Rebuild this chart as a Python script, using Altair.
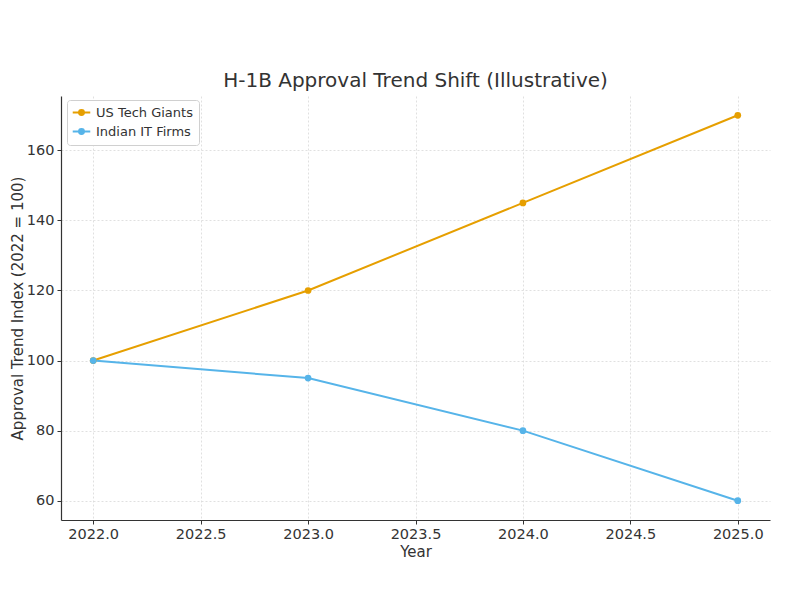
import altair as alt
import pandas as pd

years = [2022, 2023, 2024, 2025]
us_tech = [100, 120, 145, 170]
indian_it = [100, 95, 80, 60]
series_names = ["US Tech Giants", "Indian IT Firms"]
series_colors = ["#E69F00", "#56B4E9"]

rows = []
for y, v in zip(years, us_tech):
    rows.append({"Year": y, "Index": v, "Series": series_names[0]})
for y, v in zip(years, indian_it):
    rows.append({"Year": y, "Index": v, "Series": series_names[1]})
df = pd.DataFrame(rows)

font = "DejaVu Sans"
legend_symbol = "M-1.6,0 L1.6,0 M-0.45,0 A0.45,0.45 0 1,1 0.45,0 A0.45,0.45 0 1,1 -0.45,0 Z"

color = alt.Color(
    "Series:N",
    scale=alt.Scale(domain=series_names, range=series_colors),
    sort=series_names,
    legend=alt.Legend(
        title=None, orient="none", legendX=6, legendY=4,
        symbolType=legend_symbol, symbolSize=120, symbolStrokeWidth=2,
        labelFont=font, labelFontSize=13, labelColor="#333333",
        fillColor="white", strokeColor="#d0d0d0", cornerRadius=3,
        padding=6, rowPadding=5, symbolOffset=2, labelOffset=8,
    ),
)

x = alt.X("Year:Q", title="Year",
          scale=alt.Scale(domain=[2021.85, 2025.15], nice=False, zero=False),
          axis=alt.Axis(values=[2022.0, 2022.5, 2023.0, 2023.5, 2024.0, 2024.5, 2025.0],
                        format=".1f", labelFlush=False))
y = alt.Y("Index:Q", title="Approval Trend Index (2022 = 100)",
          scale=alt.Scale(domain=[54.5, 175.5], nice=False, zero=False),
          axis=alt.Axis(values=[60, 80, 100, 120, 140, 160]))

base = alt.Chart(df).encode(x=x, y=y, color=color)
lines = base.mark_line(strokeWidth=2)
points = base.mark_point(filled=True, size=45, opacity=1)

chart = (lines + points).properties(
    width=709, height=424,
    title=alt.Title("H-1B Approval Trend Shift (Illustrative)", font=font, fontSize=20,
                    fontWeight="normal", color="#333333", offset=5),
    autosize=alt.AutoSizeParams(type="none"),
    padding={"left": 53, "top": 88, "right": 20, "bottom": 70},
).configure_view(stroke=None).configure_axis(
    labelFont=font, labelFontSize=14.5, labelColor="#333333",
    titleFont=font, titleFontSize=15, titleFontWeight="normal", titleColor="#333333",
    domainColor="#333333", domainWidth=1.2, tickColor="#333333", tickSize=4, tickWidth=1,
    gridColor="#d8d8d8", gridDash=[2, 2], gridWidth=0.8, labelPadding=3,
).configure_axisY(titlePadding=1).configure_axisX(titlePadding=4)

chart.save("out.html", embed_options={"renderer": "svg", "actions": False})
